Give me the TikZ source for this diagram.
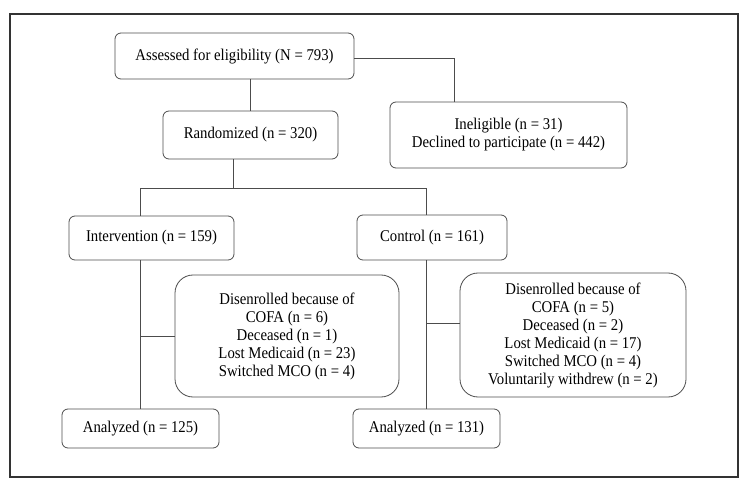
\documentclass[tikz,border=0pt]{standalone}
\usepackage{fontspec}
\setmainfont{Liberation Serif}[FakeStretch=0.9]
\usepackage{tikz}
\usepackage{xcolor}

\begin{document}
\begin{tikzpicture}[x=1pt,y=-1pt,
  box/.style={draw=black!70,line width=0.8pt,rounded corners=6pt,align=center,inner sep=0pt},
  bigbox/.style={box,rounded corners=18pt},
  link/.style={draw=black!70,line width=0.8pt}]
\fontsize{16.4}{18}\selectfont
\useasboundingbox (0,0) rectangle (748,489);
\draw [black!80,line width=1.3pt] (10,14) rectangle (738,477);
%
\node (assess) at (234.5,56) [box,minimum width=239pt,minimum height=46pt] {Assessed for eligibility (N = 793)};
\node (rand) at (250.5,135) [box,minimum width=175pt,minimum height=48pt] {Randomized (n = 320)};
\node (inelig) at (508.5,135) [box,minimum width=237pt,minimum height=66pt] {Ineligible (n = 31)\\Declined to participate (n = 442)};
%
\node (interv) at (151.5,238) [box,minimum width=165pt,minimum height=44pt] {Intervention (n = 159)};
\node (ctrl) at (432,237.5) [box,minimum width=150pt,minimum height=45pt] {Control (n = 161)};
\coordinate (split) at (233,188);
%
\node (disA) at (287,336) [bigbox,minimum width=224pt,minimum height=122pt] {Disenrolled because of\\COFA (n = 6)\\Deceased (n = 1)\\Lost Medicaid (n = 23)\\Switched MCO (n = 4)};
\node (disB) at (573,335) [bigbox,minimum width=226pt,minimum height=124pt] {Disenrolled because of\\COFA (n = 5)\\Deceased (n = 2)\\Lost Medicaid (n = 17)\\Switched MCO (n = 4)\\Voluntarily withdrew (n = 2)};
%
\node (anA) at (140.5,428.5) [box,minimum width=157pt,minimum height=39pt] {Analyzed (n = 125)};
\node (anB) at (426.5,428.5) [box,minimum width=147pt,minimum height=39pt] {Analyzed (n = 131)};
%
\draw [link] (rand.north) -- (rand.north |- assess.south);
\draw [link] ([yshift=-2pt]assess.east) -| ([xshift=-54.5pt]inelig.north);
\draw [link] ([xshift=-17.5pt]rand.south) -- (split);
\draw [link] (split) -| ([xshift=-11pt]interv.north);
\draw [link] (split) -| ([xshift=-5.5pt]ctrl.north);
%
\draw [link] (anA.north) -- (anA.north |- interv.south);
\draw [link] (disA.west) -- (disA.west -| anA.north);
\draw [link] (anB.north) -- (anB.north |- ctrl.south);
\draw [link] ([yshift=12pt]disB.west) -- ([yshift=12pt]disB.west -| anB.north);
\end{tikzpicture}
\end{document}
